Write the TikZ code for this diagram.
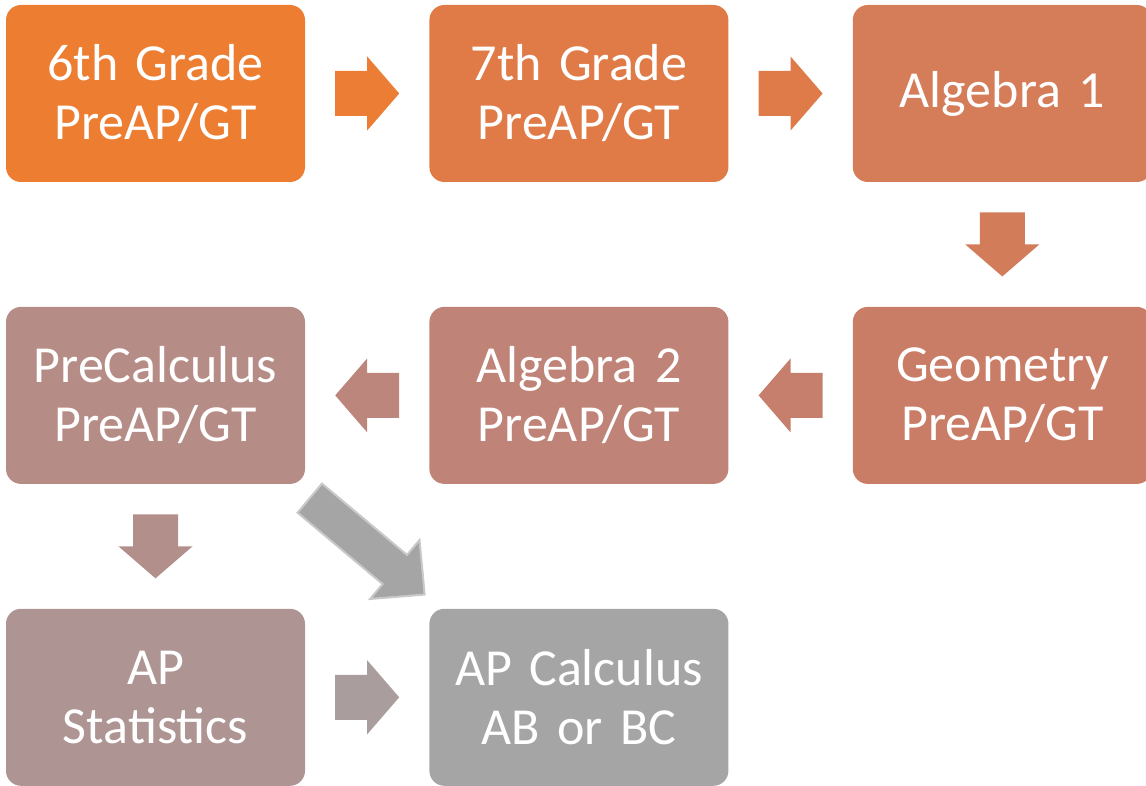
\documentclass[tikz,border=0pt]{standalone}
\usepackage{fontspec}
\setmainfont{Carlito}
\usepackage{tikz}
\usetikzlibrary{positioning,calc}

\definecolor{cA}{HTML}{ED7D31}
\definecolor{cB}{HTML}{E07B47}
\definecolor{cC}{HTML}{D57C58}
\definecolor{cD}{HTML}{CA7D66}
\definecolor{cE}{HTML}{BF8377}
\definecolor{cF}{HTML}{B68C86}
\definecolor{cG}{HTML}{AE9594}
\definecolor{cH}{HTML}{A5A5A5}

\tikzset{
  course/.style={rectangle, rounded corners=15pt, minimum width=299pt, minimum height=177pt,
    text width=290pt, align=center, text=white, inner sep=0pt,
    font=\fontsize{52}{59}\selectfont},
}

% block arrow between two nodes: from, to, angle, colour
\newcommand{\blockarrow}[4]{%
  \fill[#4, shift={($(#1)!0.5!(#2)$)}, rotate=#3]
    (-32,-22.5) -- (0,-22.5) -- (0,-37) -- (32,0) -- (0,37) -- (0,22.5) -- (-32,22.5) -- cycle;}

\begin{document}
\begin{tikzpicture}[x=1pt, y=1pt, node distance=124.5pt and 124pt]
        \useasboundingbox (0,0) rectangle (1146,-786);
        % Nodes
        \node[course, fill=cA] (grade6) at (155.5,-93.5) {6th Grade\\PreAP/GT};
        \node[course, fill=cB, right=of grade6] (grade7) {7th Grade\\PreAP/GT};
        \node[course, fill=cC, right=of grade7] (alg1) {Algebra 1};
        \node[course, fill=cD, below=of alg1] (geom) {Geometry\\PreAP/GT};
        \node[course, fill=cE, left=of geom] (alg2) {Algebra 2\\PreAP/GT};
        \node[course, fill=cF, left=of alg2] (precalc) {PreCalculus\\PreAP/GT};
        \node[course, fill=cG, below=of precalc] (apstat) {AP\\Statistics};
        \node[course, fill=cH, right=of apstat] (apcalc) {AP Calculus\\AB or BC};

        % Arrows
        \blockarrow{grade6}{grade7}{0}{cA!85!cB}
        \blockarrow{grade7}{alg1}{0}{cB!85!cC}
        \blockarrow{alg1}{geom}{-90}{cC!85!cD}
        \blockarrow{geom}{alg2}{180}{cD!65!cE}
        \blockarrow{alg2}{precalc}{180}{cE!65!cF}
        \blockarrow{precalc}{apstat}{-90}{cF!65!cG}
        \blockarrow{apstat}{apcalc}{0}{cG!50!cH}
        \filldraw[fill=cH, draw=cH!60!white, line width=2pt, line join=miter,
          shift={($(precalc.south east)!0.5!(apcalc.north west)$)}, rotate=-40]
          (-75,-19) -- (36,-19) -- (36,-38.5) -- (75,0) -- (36,38.5) -- (36,19) -- (-75,19) -- cycle;
    \end{tikzpicture}
\end{document}
